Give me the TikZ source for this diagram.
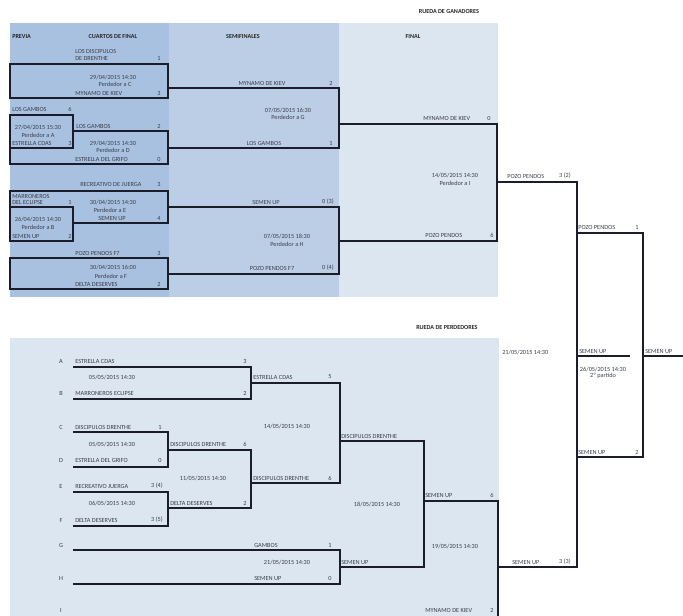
\documentclass[tikz,border=0pt]{standalone}
\usepackage{fontspec}
\setmainfont{Carlito}
\definecolor{qfblue}{HTML}{A9C1E0}
\definecolor{sfblue}{HTML}{BBCEE6}
\definecolor{fnblue}{HTML}{DCE6F1}
\definecolor{linec}{HTML}{1B1D2A}
\definecolor{textc}{HTML}{3A3F4C}
\tikzset{
  txt/.style={inner sep=0pt, text=textc, font=\fontsize{4.7}{5}\selectfont},
  team/.style={txt, anchor=west},
  hdr/.style={inner sep=0pt, text=black!85, font=\fontsize{4.6}{5}\selectfont\bfseries},
  brk/.style={line width=1.2pt, draw=linec, line join=miter},
}
\begin{document}
\begin{tikzpicture}[x=0.75pt,y=0.75pt,yscale=-1]
\useasboundingbox (0,0) rectangle (683,616);

%Panels: rueda de ganadores
\fill[qfblue] (10,23) rectangle (169,297);
\fill[sfblue] (169,23) rectangle (339,297);
\fill[fnblue] (339,23) rectangle (498,297);
%Panel: rueda de perdedores
\fill[fnblue] (10,338) rectangle (499,616);

% Titles
\node[hdr] (ttlWin) at (449,12) {RUEDA DE GANADORES};
\node[hdr] (ttlLose) at (447,328) {RUEDA DE PERDEDORES};
\node[hdr, anchor=west] (hPrev) at (12,37) {PREVIA};
\node[hdr] (hQF) at (113,37) {CUARTOS DE FINAL};
\node[hdr] (hSF) at (243,37) {SEMIFINALES};
\node[hdr] (hFin) at (413,37) {FINAL};

%Boxes: previa and cuartos
\draw[brk] (10,64) rectangle (168,98);
\draw[brk] (10,115) rectangle (73,148);
\draw[brk] (73,131) -- (168,131) -- (168,164) -- (10,164) -- (10,148);
\draw[brk] (10,207) -- (10,191) -- (168,191) -- (168,223) -- (73,223);
\draw[brk] (10,207) rectangle (73,241);
\draw[brk] (10,258) rectangle (168,289);
%Semifinales and final
\draw[brk] (168,88) -- (339,88) -- (339,148) -- (168,148);
\draw[brk] (168,207) -- (339,207) -- (339,274) -- (168,274);
\draw[brk] (339,124) -- (497,124) -- (497,241) -- (339,241);
%Gran final
\draw[brk] (497,182) -- (577,182) -- (577,567) -- (498,567);
\draw[brk] (577,233) -- (643,233) -- (643,457) -- (577,457);
\draw[brk] (577,356) -- (630,356);
\draw[brk] (643,356) -- (683,356);

%Brackets: rueda de perdedores
\draw[brk] (73,367) -- (251,367) -- (251,399) -- (73,399);
\draw[brk] (73,432) -- (168,432) -- (168,467) -- (73,467);
\draw[brk] (73,492) -- (168,492) -- (168,526) -- (73,526);
\draw[brk] (168,450) -- (251,450) -- (251,508) -- (168,508);
\draw[brk] (251,383) -- (340,383) -- (340,483) -- (251,483);
\draw[brk] (73,550) -- (340,550) -- (340,584) -- (73,584);
\draw[brk] (340,441) -- (424,441) -- (424,567) -- (340,567);
\draw[brk] (424,501) -- (498,501) -- (498,616);

% Text Node: cuartos 1
\node[team] (q1a) at (75,51) {LOS DISCIPULOS};
\node[team] (q1b) at (75,58) {DE DRENTHE};
\node[txt] (q1as) at (159,58) {1};
\node[txt] (q1d) at (113,77) {29/04/2015 14:30};
\node[txt] (q1p) at (115,84) {Perdedor a C};
\node[team] (q1c) at (75,93) {MYNAMO DE KIEV};
\node[txt] (q1cs) at (159,93) {3};
% Text Node: previa 1
\node[team] (p1a) at (12,109) {LOS GAMBOS};
\node[txt] (p1as) at (70,109) {6};
\node[txt] (p1d) at (38,127) {27/04/2015 15:30};
\node[txt] (p1p) at (38,135) {Perdedor a A};
\node[team] (p1b) at (12,143) {ESTRELLA CDAS};
\node[txt] (p1bs) at (70,143) {3};
% Text Node: cuartos 2
\node[team] (q2a) at (76,126) {LOS GAMBOS};
\node[txt] (q2as) at (159,126) {2};
\node[txt] (q2d) at (113,143) {29/04/2015 14:30};
\node[txt] (q2p) at (113,150) {Perdedor a D};
\node[team] (q2b) at (75,159) {ESTRELLA DEL GRIFO};
\node[txt] (q2bs) at (159,159) {0};
% Text Node: cuartos 3
\node[team] (q3a) at (80,184) {RECREATIVO DE JUERGA};
\node[txt] (q3as) at (159,184) {3};
\node[txt] (q3d) at (113,202) {30/04/2015 14:30};
\node[txt] (q3p) at (110,210) {Perdedor a E};
\node[txt] (q3b) at (112,218) {SEMEN UP};
\node[txt] (q3bs) at (159,218) {4};
% Text Node: previa 2
\node[team] (p2a) at (12,196) {MARRONEROS};
\node[team] (p2b) at (12,202) {DEL ECLIPSE};
\node[txt] (p2as) at (70,202) {1};
\node[txt] (p2d) at (38,219) {26/04/2015 14:30};
\node[txt] (p2p) at (38,227) {Perdedor a B};
\node[team] (p2c) at (12,236) {SEMEN UP};
\node[txt] (p2cs) at (70,236) {2};
% Text Node: cuartos 4
\node[team] (q4a) at (75,253) {POZO PENDOS F7};
\node[txt] (q4as) at (159,253) {3};
\node[txt] (q4d) at (113,267) {30/04/2015 16:00};
\node[txt] (q4p) at (111,276) {Perdedor a F};
\node[team] (q4b) at (75,284) {DELTA DESERVES};
\node[txt] (q4bs) at (159,284) {2};

% Text Node: semifinales
\node[txt] (s1a) at (262,83) {MYNAMO DE KIEV};
\node[txt] (s1as) at (331,83) {2};
\node[txt] (s1d) at (288,110) {07/05/2015 16:30};
\node[txt] (s1p) at (288,117) {Perdedor a G};
\node[txt] (s1b) at (264,143) {LOS GAMBOS};
\node[txt] (s1bs) at (331,143) {1};
\node[txt] (s2a) at (266,202) {SEMEN UP};
\node[txt] (s2as) at (328,202) {0 (3)};
\node[txt] (s2d) at (287,236) {07/05/2015 18:30};
\node[txt] (s2p) at (287,244) {Perdedor a H};
\node[txt] (s2b) at (272,268) {POZO PENDOS F7};
\node[txt] (s2bs) at (328,268) {0 (4)};
% Text Node: final
\node[team] (fa) at (423,118) {MYNAMO DE KIEV};
\node[txt] (fas) at (489,118) {0};
\node[txt] (fd) at (455,175) {14/05/2015 14:30};
\node[txt] (fp) at (455,183) {Perdedor a I};
\node[team] (fb) at (425,235) {POZO PENDOS};
\node[txt] (fbs) at (492,235) {6};

% Text Node: gran final
\node[team] (g1a) at (507,176) {POZO PENDOS};
\node[txt] (g1as) at (565,176) {3 (2)};
\node[team] (g1b) at (512,562) {SEMEN UP};
\node[txt] (g1bs) at (565,562) {3 (3)};
\node[team] (g1d) at (502,352) {21/05/2015 14:30};
\node[team] (g1w) at (579,351) {SEMEN UP};
\node[txt] (g2d) at (603,369) {26/05/2015 14:30};
\node[txt] (g2n) at (603,376) {2º partido};
\node[team] (g2a) at (578,227) {POZO PENDOS};
\node[txt] (g2as) at (637,227) {1};
\node[team] (g2b) at (578,452) {SEMEN UP};
\node[txt] (g2bs) at (637,452) {2};
\node[team] (champ) at (645,351) {SEMEN UP};

% Text Node: perdedores, slots
\foreach \slot/\ypos in {A/361,B/393,C/427,D/460,E/486,F/520,G/545,H/578,I/610}
  \node[txt] (slot\slot) at (61,\ypos) {\slot};
\node[team] (la) at (75,361) {ESTRELLA CDAS};
\node[txt] (las) at (245,361) {3};
\node[txt] (labd) at (112,377) {05/05/2015 14:30};
\node[team] (lb) at (75,393) {MARRONEROS ECLIPSE};
\node[txt] (lbs) at (245,393) {2};
\node[team] (lc) at (75,427) {DISCIPULOS DRENTHE};
\node[txt] (lcs) at (160,427) {1};
\node[txt] (lcdd) at (112,444) {05/05/2015 14:30};
\node[team] (ld) at (75,460) {ESTRELLA DEL GRIFO};
\node[txt] (lds) at (160,460) {0};
\node[team] (le) at (75,486) {RECREATIVO JUERGA};
\node[txt] (les) at (157,486) {3 (4)};
\node[txt] (lefd) at (112,503) {06/05/2015 14:30};
\node[team] (lf) at (75,520) {DELTA DESERVES};
\node[txt] (lfs) at (157,520) {3 (5)};
\node[team] (lcd) at (170,444) {DISCIPULOS DRENTHE};
\node[txt] (lcds) at (245,444) {6};
\node[team] (lef) at (170,503) {DELTA DESERVES};
\node[txt] (lefs) at (245,503) {2};
\node[txt] (lcdefd) at (203,478) {11/05/2015 14:30};
\node[team] (lab) at (253,377) {ESTRELLA CDAS};
\node[txt] (labs) at (330,377) {5};
\node[team] (lcdef) at (253,478) {DISCIPULOS DRENTHE};
\node[txt] (lcdefs) at (330,478) {6};
\node[txt] (lsd) at (287,426) {14/05/2015 14:30};
\node[team] (lsw) at (341,436) {DISCIPULOS DRENTHE};
\node[team] (lg) at (254,545) {GAMBOS};
\node[txt] (lgs) at (330,545) {1};
\node[txt] (lghd) at (287,562) {21/05/2015 14:30};
\node[team] (lh) at (254,578) {SEMEN UP};
\node[txt] (lhs) at (330,578) {0};
\node[team] (lgh) at (341,562) {SEMEN UP};
\node[txt] (ltd) at (377,504) {18/05/2015 14:30};
\node[team] (lt) at (425,495) {SEMEN UP};
\node[txt] (lts) at (492,495) {6};
\node[txt] (lfd) at (455,546) {19/05/2015 14:30};
\node[team] (li) at (425,610) {MYNAMO DE KIEV};
\node[txt] (lis) at (492,610) {2};

\end{tikzpicture}
\end{document}
